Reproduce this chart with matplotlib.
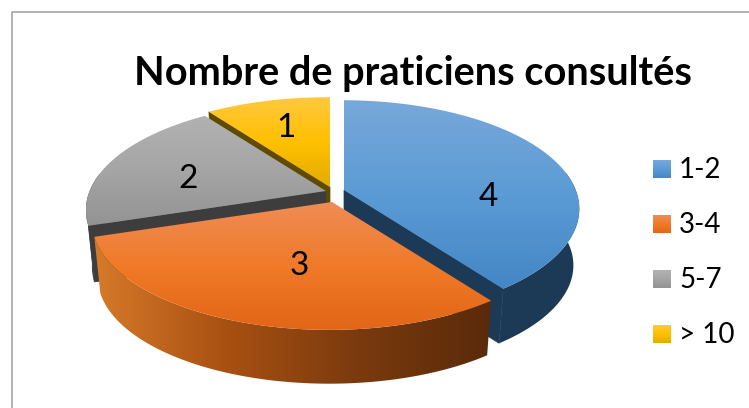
import matplotlib
matplotlib.use('Agg')
import matplotlib.pyplot as plt
import numpy as np
from matplotlib.colors import LinearSegmentedColormap
from matplotlib.patches import Polygon

plt.rcParams['font.family'] = ['Lato', 'DejaVu Sans']

# Données
title = 'Nombre de praticiens consultés'
categories = ['1-2', '3-4', '5-7', '> 10']
values = [4, 3, 2, 1]

# Couleurs : dessus (haut -> bas), tranche extérieure (gauche -> droite), coupe
top_colors = [['#78a8da', '#5b9bd5', '#4486c6'],
              ['#ef8c56', '#f07a28', '#e26617'],
              ['#b2b2b2', '#a5a5a5', '#939393'],
              ['#ffc840', '#ffc000', '#e4ab00']]
wall_colors = [['#1c3a56', '#1c3a56'],
               ['#d67a2a', '#a85012', '#7a3a0e', '#5a2a0a'],
               ['#3d3d3d', '#3d3d3d'],
               ['#6a5200', '#6a5200']]
cut_colors = ['#1c3a56', '#3d3d3d', '#3d3d3d', '#5f4a00']
# Sommet de chaque part éclatée, en pixels
apex = [(344, 190), (332, 202), (326, 191), (330, 187)]

# Projection du disque en perspective
R, H, k, m = 234, 105.5, 0.175, 0.01
depth, shrink = 57, 0.975


def project(t_deg):
    t = np.radians(t_deg)
    u, v = np.sin(t), -np.cos(t)
    w = 1 - k * v + m * u
    return u * R / w, v * H / w


fig = plt.figure(figsize=(7.49, 4.08), dpi=100)
ax = fig.add_axes([0, 0, 1, 1])

bounds = np.cumsum([0] + values) / sum(values) * 360


def gradient(colors, extent, clip=None, horizontal=False, z=1):
    cmap = LinearSegmentedColormap.from_list('g', colors)
    g = np.linspace(0, 1, 256).reshape(-1, 1)
    if horizontal:
        g = g.T
    im = ax.imshow(g, cmap=cmap, extent=extent, aspect='auto', zorder=z, interpolation='bilinear')
    if clip is not None:
        im.set_clip_path(clip)
    return im


def draw_slice(i, z):
    cx, cy = apex[i]
    t1, t2 = bounds[i], bounds[i + 1]
    ts = np.linspace(t1, t2, int(t2 - t1) + 2)
    xs, ys = project(ts)
    xs, ys = cx + xs, cy + ys
    bx = cx + (xs - cx) * shrink
    by = cy + (ys - cy) * shrink + depth

    # face de coupe visible
    if i in (0, 2, 3):
        j = -1 if i == 0 else 0
        face = [(cx, cy), (xs[j], ys[j]), (bx[j], by[j]), (cx, cy + depth)]
        ax.add_patch(Polygon(face, closed=True, fc=cut_colors[i], ec=cut_colors[i], lw=0.5, zorder=z))

    # tranche extérieure en dégradé horizontal
    keep = (ts >= 80) & (ts <= 280)
    if keep.sum() > 1:
        pts = np.r_[np.column_stack([xs[keep], ys[keep]]), np.column_stack([bx[keep], by[keep]])[::-1]]
        wall = Polygon(pts, closed=True, fc='none', ec='none')
        ax.add_patch(wall)
        gradient(wall_colors[i], (pts[:, 0].min(), pts[:, 0].max(), pts[:, 1].max(), pts[:, 1].min()),
                 clip=wall, horizontal=True, z=z + 1)

    # dessus en dégradé vertical
    pts = np.column_stack([np.r_[cx, xs], np.r_[cy, ys]])
    poly = Polygon(pts, closed=True, fc='none', ec='none')
    ax.add_patch(poly)
    gradient(top_colors[i], (pts[:, 0].min(), pts[:, 0].max(), pts[:, 1].max(), pts[:, 1].min()),
             clip=poly, z=z + 2)


# ordre : de l'arrière vers l'avant
for z, i in enumerate([3, 2, 0, 1]):
    draw_slice(i, 2 + z * 3)

# Étiquettes
label_pos = [(488, 197), (299, 266), (188, 179), (286, 128)]
for (x, y), val in zip(label_pos, values):
    ax.text(x, y, str(val), fontsize=24, ha='center', va='center', color='black', zorder=30)

ax.text(413, 74, title, fontsize=28.6, fontweight='bold', ha='center', va='center', color='black', zorder=30)

# Légende
legend_y = [169, 224, 279, 334]
for y, cat, cols in zip(legend_y, categories, top_colors):
    gradient(cols, (653, 671, y + 9, y - 9), z=20)
    ax.text(679, y + 1, cat, fontsize=20, ha='left', va='center', color='black', zorder=30)

# Cadre du graphique
ax.plot([11.5, 11.5, 749], [408, 11.5, 11.5], color='#a6a6a6', lw=1.2, zorder=1)

ax.set_xlim(0, 749)
ax.set_ylim(408, 0)
ax.axis('off')
fig.savefig('out.png', dpi=100)
